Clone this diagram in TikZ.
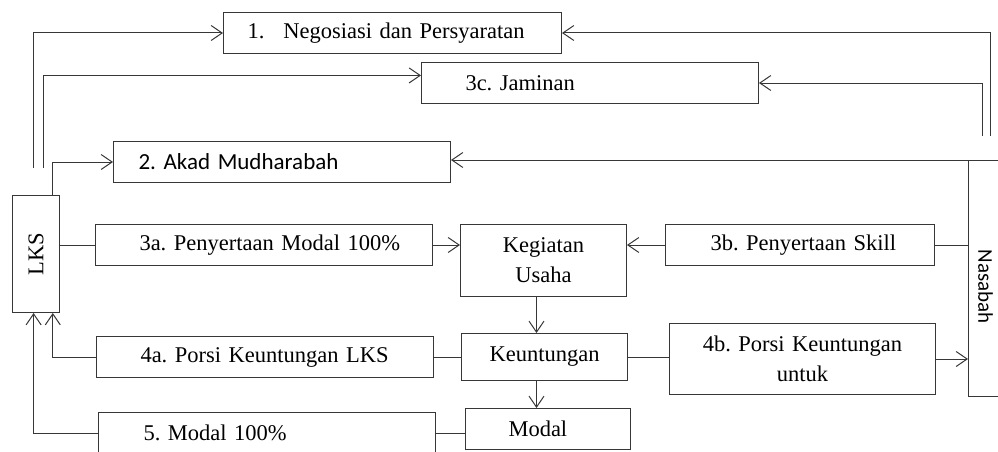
\documentclass[tikz,border=0pt]{standalone}
\usepackage{fontspec}
\setmainfont{Liberation Serif}
\newfontfamily\calibrifont{Carlito}
\usetikzlibrary{arrows.meta,calc}
\frenchspacing

\definecolor{linegray}{RGB}{55,55,55}

\tikzset{every picture/.style={line width=1pt}}
\tikzset{
  box/.style={draw=linegray, inner sep=0pt, anchor=north west, minimum height=41pt,
    font=\fontsize{22.5}{30}\selectfont},
  lbox/.style={box, minimum width=#1, text width=#1, align=left},
  cbox/.style={box, minimum width=#1, text width=#1, align=center},
  arr/.style={draw=linegray, -{Straight Barb[length=11pt,width=15pt,line width=1pt]}},
  con/.style={draw=linegray}
}

\begin{document}
\begin{tikzpicture}[x=1pt,y=1pt,yscale=-1]
	\useasboundingbox (0,0) rectangle (998,452);
	\clip (0,0) rectangle (998,452);

	% boxes on top
	\node[lbox=338pt] (neg) at (223,12) {\hspace*{24pt}1.\hspace*{19pt}Negosiasi dan Persyaratan};
	\node[lbox=337pt] (jam) at (421,62) {\hspace*{44pt}3c. Jaminan};
	\node[lbox=337pt, font=\calibrifont\fontsize{23}{28}\selectfont] (akad) at (113,141) {\hspace*{25pt}2. Akad Mudharabah};

	% the two parties
	\node[cbox=47pt, minimum height=117pt] (lks) at (12,195) {\rotatebox{90}{LKS}};
	\node[cbox=34pt, minimum height=236pt, font=\calibrifont\fontsize{21}{24}\selectfont] (nas) at (968,160) {\rotatebox{-90}{\hspace*{16pt}Nasabah}};

	% middle row
	\node[lbox=337pt] (pm) at (95,224) {\hspace*{44pt}3a. Penyertaan Modal 100\%};
	\node[cbox=166pt, minimum height=72pt] (keg) at (460,224) {Kegiatan\\Usaha};
	\node[lbox=269pt] (skill) at (665,224) {\hspace*{45pt}3b. Penyertaan Skill};

	% profit row
	\node[lbox=337pt] (pk) at (96,336) {\hspace*{44pt}4a. Porsi Keuntungan LKS};
	\node[cbox=166pt, minimum height=47pt] (untung) at (461,333) {Keuntungan};
	\node[cbox=266pt, minimum height=71pt] (pku) at (669,323) {4b. Porsi Keuntungan\\untuk};

	% bottom row
	\node[lbox=337pt] (m5) at (98,412) {\hspace*{45pt}5. Modal 100\%};
	\node[lbox=165pt] (modal) at (465,408) {\hspace*{43pt}Modal};

	% free ends of the long connectors
	\coordinate (lksA) at (33,168);
	\coordinate (lksB) at (43,168);
	\coordinate (nasA) at (990,136);
	\coordinate (nasB) at (982,136);
	\coordinate (nasTop) at (1000,160);

	% connectors
	\draw[arr] (lksA) |- (neg.west);
	\draw[arr] (lksB) |- ($(jam.north west)!0.32!(jam.south west)$);
	\draw[arr] ($(lks.north west)!0.85!(lks.north east)$) |- (akad.west);
	\draw[arr] (nasA) |- (neg.east);
	\draw[arr] (nasB) |- (jam.east);
	\draw[arr] (nasTop) -- (nasTop -| akad.east);

	\draw[con] (lks.east |- pm.west) -- (pm.west);
	\draw[arr] (pm.east) -- (pm.east -| keg.west);
	\draw[con] (skill.east) -- (skill.east -| nas.west);
	\draw[arr] (skill.west) -- (skill.west -| keg.east);

	\draw[arr] ([xshift=-7pt]keg.south) -- ([xshift=-7pt]keg.south |- untung.north);
	\draw[arr] ([xshift=-8pt]untung.south) -- ([xshift=-8pt]untung.south |- modal.north);

	\draw[con] (untung.west) -- (untung.west -| pk.east);
	\draw[con] (untung.east) -- (untung.east -| pku.west);
	\draw[arr] (pku.east) -- (pku.east -| nas.west);
	\draw[con] (m5.east) -- (m5.east -| modal.west);

	\draw[arr] (pk.west) -| ($(lks.south west)!0.85!(lks.south east)$);
	\draw[arr] (m5.west) -| ($(lks.south west)!0.45!(lks.south east)$);

\end{tikzpicture}
\end{document}
